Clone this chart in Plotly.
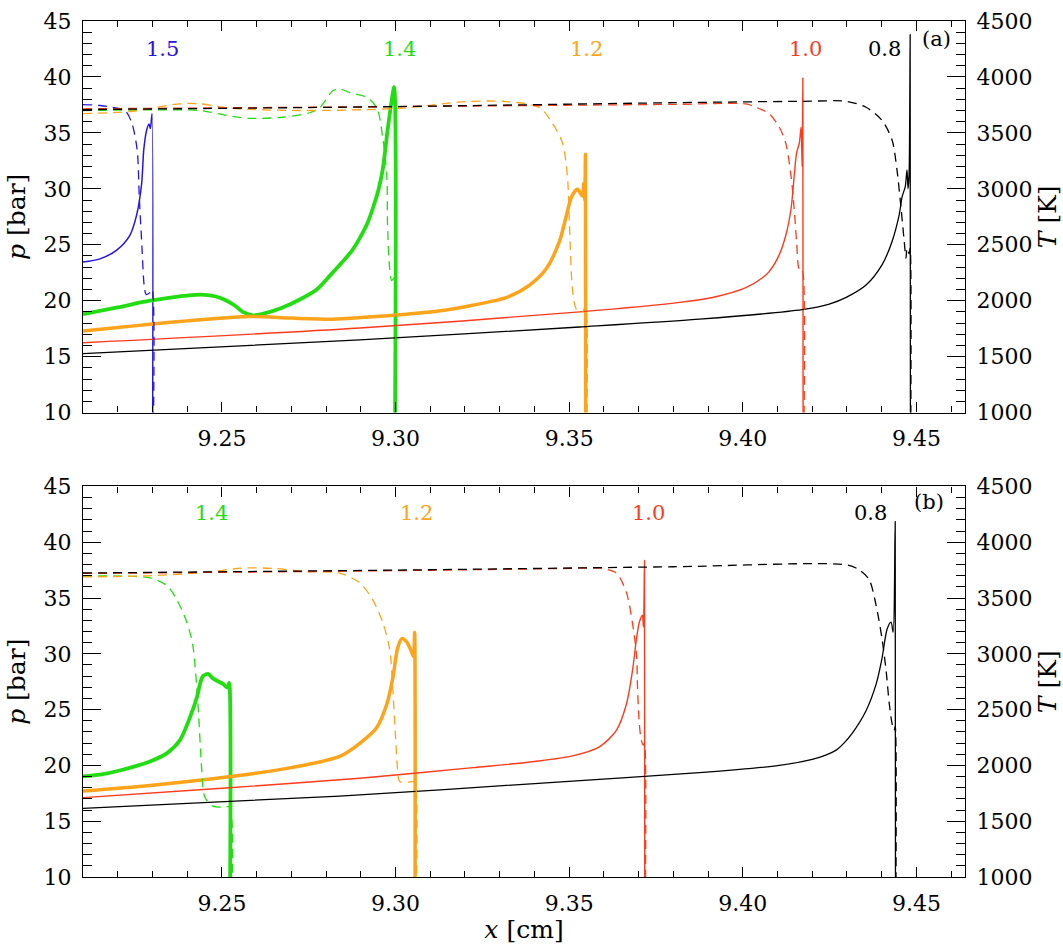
import plotly.graph_objects as go

# ---------------- data: panel (a) ----------------
# case 1.5 (blue)
a15_xp = [9.2100, 9.2149, 9.2197, 9.2235, 9.2254, 9.2269, 9.2275, 9.2283, 9.2290, 9.2294, 9.2297, 9.2299, 9.2300]
a15_p = [23.45, 23.74, 24.53, 25.85, 27.6, 30.5, 33.5, 35.2, 35.8, 35.4, 36.2, 36.7, 1.0]
a15_xT = [9.2100, 9.2150, 9.2180, 9.2221, 9.2241, 9.2256, 9.2262, 9.2270, 9.2276, 9.2282, 9.2293, 9.2299, 9.2300]
a15_T = [3753, 3745, 3730, 3700, 3585, 3348, 2935, 2469, 2143, 2056, 2073, 2100, 300]

# case 1.4 (green)
a14_xp = [9.2100, 9.2200, 9.2293, 9.2437, 9.2480, 9.2514, 9.2540, 9.2560, 9.2589, 9.2620, 9.2675, 9.2730,
          9.2773, 9.2810, 9.2848, 9.2875, 9.2897, 9.2920, 9.2934, 9.2950, 9.2963, 9.2977, 9.2989, 9.2996, 9.2997]
a14_p = [18.8, 19.4, 20.0, 20.55, 20.4, 20.0, 19.5, 19.0, 18.7, 18.85, 19.4, 20.2,
         21.0, 22.2, 23.5, 24.5, 25.6, 27.0, 28.2, 29.8, 31.7, 35.2, 37.9, 39.1, 1.0]
a14_xT = [9.2100, 9.2300, 9.2437, 9.2514, 9.2580, 9.2675, 9.2753, 9.2782, 9.2819, 9.2839, 9.2868, 9.2917,
          9.2946, 9.2963, 9.2975, 9.2977, 9.2983, 9.2989, 9.2995, 9.2996]
a14_T = [3700, 3705, 3700, 3656, 3630, 3640, 3680, 3726, 3876, 3893, 3860, 3817,
         3726, 3462, 3110, 2671, 2293, 2180, 2200, 300]

# case 1.2 (orange)
a12_xp = [9.2100, 9.2200, 9.2293, 9.2400, 9.2580, 9.2700, 9.2819, 9.2900, 9.3032, 9.3130, 9.3222, 9.3320,
          9.3386, 9.3435, 9.3472, 9.3492, 9.3507, 9.3524, 9.3538, 9.3542, 9.3545, 9.3547, 9.3548]
a12_p = [17.3, 17.6, 17.9, 18.2, 18.6, 18.45, 18.35, 18.5, 18.8, 19.1, 19.6, 20.3,
         21.4, 22.9, 25.3, 27.6, 29.3, 29.96, 29.35, 30.5, 29.0, 33.1, 1.0]
a12_xT = [9.2100, 9.2235, 9.2379, 9.2437, 9.2523, 9.2724, 9.3012, 9.3205, 9.3320, 9.3415, 9.3452, 9.3481,
          9.3495, 9.3501, 9.3510, 9.3521, 9.3538, 9.3547, 9.3548]
a12_T = [3673, 3690, 3760, 3760, 3720, 3700, 3720, 3780, 3780, 3726, 3585, 3409,
         3111, 2671, 2090, 1923, 1897, 1950, 300]

# case 1.0 (red)
a10_xp = [9.2100, 9.2897, 9.3530, 9.3818, 9.3913, 9.4009, 9.4057, 9.4076, 9.4105, 9.4124, 9.4139, 9.4148,
          9.4155, 9.4163, 9.4168, 9.4171, 9.4173, 9.4174]
a10_p = [16.24, 17.56, 19.0, 19.85, 20.29, 21.17, 22.05, 22.6, 24.1, 25.85, 28.2, 31.1,
         33.2, 34.1, 35.5, 32.0, 39.9, 1.0]
a10_xT = [9.2100, 9.3000, 9.3800, 9.4009, 9.4038, 9.4076, 9.4105, 9.4124, 9.4139, 9.4148, 9.4155, 9.4161,
          9.4168, 9.4172, 9.4174]
a10_T = [3715, 3735, 3755, 3759, 3729, 3671, 3553, 3407, 3113, 2820, 2527, 2293,
         2249, 2260, 300]

# case 0.8 (black)
a08_xp = [9.2100, 9.2897, 9.3530, 9.3875, 9.4171, 9.4249, 9.4298, 9.4355, 9.4401, 9.4430, 9.4450, 9.4459,
          9.4468, 9.4473, 9.4476, 9.4479, 9.4482, 9.4483]
a08_p = [15.27, 16.5, 17.65, 18.35, 19.2, 19.7, 20.3, 21.4, 23.2, 25.3, 27.6, 29.3,
         30.2, 31.7, 30.0, 31.3, 43.8, 1.0]
a08_xT = [9.2100, 9.3000, 9.3800, 9.4171, 9.4298, 9.4355, 9.4401, 9.4430, 9.4444, 9.4456, 9.4465, 9.4470,
          9.4473, 9.4479, 9.4482, 9.4483]
a08_T = [3708, 3735, 3770, 3782, 3782, 3729, 3612, 3436, 3172, 2820, 2530, 2380,
         2470, 2420, 2470, 300]

# ---------------- data: panel (b) ----------------
# case 1.4 (green)
b14_xp = [9.2100, 9.2149, 9.2200, 9.2293, 9.2342, 9.2379, 9.2408, 9.2428, 9.2437, 9.2445, 9.2460, 9.2474,
          9.2503, 9.2517, 9.2521, 9.2522]
b14_p = [19.02, 19.17, 19.5, 20.35, 21.1, 22.25, 24.3, 26.1, 27.3, 27.98, 28.2, 27.8,
         27.3, 26.96, 27.4, 1.0]
b14_xT = [9.2100, 9.2293, 9.2342, 9.2370, 9.2399, 9.2416, 9.2431, 9.2442, 9.2451, 9.2474, 9.2503, 9.2521, 9.2522]
b14_T = [3695, 3680, 3610, 3486, 3283, 3080, 2550, 1961, 1714, 1635, 1626, 1626, 300]

# case 1.2 (orange)
b12_xp = [9.2100, 9.2293, 9.2532, 9.2700, 9.2839, 9.2897, 9.2946, 9.2975, 9.2992, 9.3006, 9.3018, 9.3032,
          9.3046, 9.3052, 9.3055, 9.3056]
b12_p = [17.7, 18.2, 19.02, 19.8, 20.8, 21.98, 23.4, 25.5, 27.8, 30.5, 31.36, 31.07,
         30.2, 29.75, 31.9, 1.0]
b12_xT = [9.2100, 9.2300, 9.2450, 9.2560, 9.2650, 9.2750, 9.2839, 9.2897, 9.2934, 9.2963, 9.2983, 9.2992,
          9.3000, 9.3006, 9.3012, 9.3032, 9.3049, 9.3055, 9.3056]
b12_T = [3689, 3700, 3730, 3768, 3765, 3735, 3724, 3636, 3486, 3283, 3045, 2693,
         2252, 1961, 1855, 1846, 1855, 1855, 300]

# case 1.0 (red)
b10_xp = [9.2100, 9.2500, 9.2897, 9.3223, 9.3400, 9.3510, 9.3587, 9.3636, 9.3665, 9.3682, 9.3694, 9.3702,
          9.3711, 9.3714, 9.3717, 9.3718]
b10_p = [17.11, 17.95, 18.85, 19.8, 20.35, 20.85, 21.66, 23.14, 25.5, 28.4, 31.36, 32.8,
         33.45, 32.4, 38.36, 1.0]
b10_xT = [9.2100, 9.3000, 9.3500, 9.3587, 9.3636, 9.3665, 9.3682, 9.3694, 9.3697, 9.3702, 9.3708, 9.3714,
          9.3717, 9.3718]
b10_T = [3720, 3745, 3765, 3768, 3724, 3548, 3283, 2990, 2693, 2375, 2225, 2181, 2200, 300]

# case 0.8 (black)
b08_xp = [9.2100, 9.2839, 9.3510, 9.3875, 9.4105, 9.4200, 9.4239, 9.4269, 9.4292, 9.4315, 9.4355, 9.4384,
          9.4401, 9.4416, 9.4427, 9.4433, 9.4439, 9.4440]
b08_p = [16.15, 17.25, 18.6, 19.35, 20.0, 20.55, 20.93, 21.37, 22.02, 22.87, 24.9, 27.28,
         29.6, 32.24, 32.83, 31.95, 41.85, 1.0]
b08_xT = [9.2100, 9.3000, 9.3800, 9.4298, 9.4335, 9.4364, 9.4384, 9.4401, 9.4413, 9.4422, 9.4430, 9.4436,
          9.4439, 9.4440]
b08_T = [3724, 3750, 3780, 3797, 3753, 3665, 3433, 3136, 2843, 2550, 2375, 2313, 2350, 300]

x_ticks = [9.25, 9.30, 9.35, 9.40, 9.45]
x_ticklabels = ["9.25", "9.30", "9.35", "9.40", "9.45"]

# ---------------- styles ----------------
BLUE = "#2414e6"
GREEN = "#22dd11"
ORANGE = "#ffa31a"
RED = "#ff3a1a"
BLACK = "#000000"
FONT = "DejaVu Serif"

panel_a = [
    (a15_xp, a15_p, a15_xT, a15_T, BLUE, 1.5),
    (a14_xp, a14_p, a14_xT, a14_T, GREEN, 3.8),
    (a12_xp, a12_p, a12_xT, a12_T, ORANGE, 3.5),
    (a10_xp, a10_p, a10_xT, a10_T, RED, 1.4),
    (a08_xp, a08_p, a08_xT, a08_T, BLACK, 1.3),
]
panel_b = [
    (b14_xp, b14_p, b14_xT, b14_T, GREEN, 3.8),
    (b12_xp, b12_p, b12_xT, b12_T, ORANGE, 3.5),
    (b10_xp, b10_p, b10_xT, b10_T, RED, 1.4),
    (b08_xp, b08_p, b08_xT, b08_T, BLACK, 1.3),
]

fig = go.Figure()

def add_panel(curves, xa, ya_p, ya_T):
    for xp, p, xT, T, col, w in curves:
        fig.add_trace(go.Scatter(x=xT, y=T, mode="lines", xaxis=xa, yaxis=ya_T,
                                 line=dict(color=col, width=1.3, dash="9px,6px", shape="spline", smoothing=0.8),
                                 showlegend=False, hoverinfo="skip"))
    for xp, p, xT, T, col, w in curves:
        fig.add_trace(go.Scatter(x=xp, y=p, mode="lines", xaxis=xa, yaxis=ya_p,
                                 line=dict(color=col, width=w, shape="spline", smoothing=0.8),
                                 showlegend=False, hoverinfo="skip"))

add_panel(panel_a, "x", "y", "y2")
add_panel(panel_b, "x2", "y3", "y4")

tickfont = dict(family=FONT, size=22, color="black")
titlefont = dict(family=FONT, size=25, color="black")

def xaxis_cfg(anchor, title=None):
    d = dict(anchor=anchor, domain=[0, 1], range=[9.21, 9.464],
             tickvals=x_ticks, ticktext=x_ticklabels,
             ticks="inside", ticklen=10, tickwidth=1.3, tickcolor="black",
             minor=dict(dtick=0.01, tick0=9.21, ticks="inside", ticklen=6, tickcolor="black", tickwidth=1.3),
             showline=True, linecolor="black", linewidth=1.3, mirror="ticks",
             showgrid=False, zeroline=False, tickfont=tickfont, ticklabelstandoff=6)
    if title:
        d["title"] = dict(text=title, font=titlefont, standoff=2)
    return d

def p_axis_cfg(domain, anchor):
    return dict(domain=domain, anchor=anchor, range=[10, 45], dtick=5, tick0=10,
                ticks="inside", ticklen=18, tickwidth=1.3, tickcolor="black",
                minor=dict(dtick=1, ticks="inside", ticklen=9, tickcolor="black", tickwidth=1.3),
                showline=True, linecolor="black", linewidth=1.3, side="left",
                showgrid=False, zeroline=False, tickfont=tickfont, ticklabelstandoff=6,
                title=dict(text="<i>p</i> [bar]", font=titlefont, standoff=10))

def T_axis_cfg(overlay, anchor):
    return dict(overlaying=overlay, anchor=anchor, side="right", range=[1000, 4500], dtick=500, tick0=1000,
                ticks="inside", ticklen=18, tickwidth=1.3, tickcolor="black",
                minor=dict(dtick=100, ticks="inside", ticklen=9, tickcolor="black", tickwidth=1.3),
                showline=True, linecolor="black", linewidth=1.3,
                showgrid=False, zeroline=False, tickfont=tickfont, ticklabelstandoff=6,
                title=dict(text="<i>T</i> [K]", font=titlefont, standoff=4))

fig.update_layout(
    width=1063, height=944,
    margin=dict(l=83, r=97, t=9, b=65),
    paper_bgcolor="white", plot_bgcolor="white",
    xaxis=xaxis_cfg("y"),
    xaxis2=xaxis_cfg("y3", "<i>x</i> [cm]"),
    yaxis=p_axis_cfg([0.5425, 1.0], "x"),
    yaxis2=T_axis_cfg("y", "x"),
    yaxis3=p_axis_cfg([0.0, 0.4563], "x2"),
    yaxis4=T_axis_cfg("y3", "x2"),
)

def label(text, x, y, col, xref, yref, size=21):
    fig.add_annotation(text=text, x=x, y=y, xref=xref, yref=yref, showarrow=False,
                       font=dict(family=FONT, size=size, color=col), xanchor="center", yanchor="middle")

label("1.5", 9.2330, 42.54, BLUE, "x", "y")
label("1.4", 9.3012, 42.54, GREEN, "x", "y")
label("1.2", 9.3550, 42.54, ORANGE, "x", "y")
label("1.0", 9.4180, 42.54, RED, "x", "y")
label("0.8", 9.4407, 42.54, BLACK, "x", "y")
label("(a)", 9.4557, 43.4, BLACK, "x", "y")

label("1.4", 9.2471, 42.6, GREEN, "x2", "y3")
label("1.2", 9.3061, 42.6, ORANGE, "x2", "y3")
label("1.0", 9.3728, 42.6, RED, "x2", "y3")
label("0.8", 9.4367, 42.6, BLACK, "x2", "y3")
label("(b)", 9.4537, 43.6, BLACK, "x2", "y3")

fig.write_html("out.html")
